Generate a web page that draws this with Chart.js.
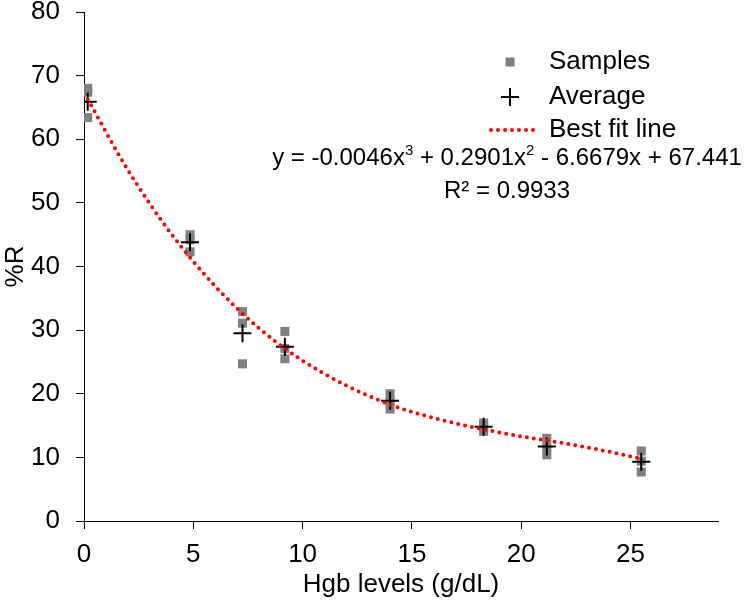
<!DOCTYPE html>
<html lang="en">
<head>
<meta charset="UTF-8">
<title>%R vs Hgb levels</title>
<script src="https://cdn.jsdelivr.net/npm/chart.js"></script>
<style>
  html, body { margin: 0; padding: 0; background: #fff; }
  #wrap { width: 750px; height: 604px; position: relative; }
</style>
</head>
<body>
<div id="wrap"><canvas id="chart"></canvas></div>
<script>
// Data
const hgbLevels = [0.17, 4.85, 7.25, 9.19, 14.0, 18.28, 21.17, 25.49];
const sampleA = [68.0, 45.0, 32.9, 29.8, 20.0, 15.4, 13.0, 11.0];
const sampleB = [67.4, 44.2, 31.1, 27.1, 18.8, 14.9, 11.6, 9.4];
const sampleC = [63.4, 42.3, 24.7, 25.5, 17.6, 14.1, 10.4, 7.7];
const averages = [65.9, 43.8, 29.5, 27.4, 18.9, 14.8, 11.7, 9.3];
const fitX = [0.17, 2, 4, 6, 8, 10, 12, 14, 16, 18, 20, 22, 24, 25.49];
const fitY = [66.3, 55.2, 45.1, 36.9, 30.3, 25.2, 21.3, 18.3, 16.2, 14.6, 13.3, 12.2, 10.9, 9.8];
const xTicks = [0, 5, 10, 15, 20, 25];
const yTicks = [0, 10, 20, 30, 40, 50, 60, 70, 80];
const seriesNames = ['Samples', 'Average', 'Best fit line'];
const equationParts = [['y = -0.0046x', false], ['3', true], [' + 0.2901x', false], ['2', true], [' - 6.6679x + 67.441', false]];
const r2Text = 'R\u00B2 = 0.9933';

const FONT = "'Liberation Sans', Arial, sans-serif";

const samplePoints = [];
hgbLevels.forEach((x, i) => {
  samplePoints.push({ x: x, y: sampleA[i] });
  samplePoints.push({ x: x, y: sampleB[i] });
  samplePoints.push({ x: x, y: sampleC[i] });
});
const avgPoints = hgbLevels.map((x, i) => ({ x: x, y: averages[i] }));
const fitPoints = fitX.map((x, i) => ({ x: x, y: fitY[i] }));

// legend + trendline equation drawn inside the plot, Excel style
const annotations = {
  id: 'annotations',
  afterDraw(chart) {
    const ctx = chart.ctx;
    const ds = chart.data.datasets;
    ctx.save();
    ctx.textBaseline = 'middle';
    const rows = [62, 97, 130];
    const mx = 510, tx = 549;
    // samples marker
    ctx.fillStyle = ds[0].backgroundColor;
    ctx.fillRect(mx - 4.5, rows[0] - 4.5, 9, 9);
    // average marker
    ctx.strokeStyle = ds[1].borderColor;
    ctx.lineWidth = 2;
    ctx.beginPath();
    ctx.moveTo(mx - 9, rows[1]); ctx.lineTo(mx + 9, rows[1]);
    ctx.moveTo(mx, rows[1] - 9); ctx.lineTo(mx, rows[1] + 9);
    ctx.stroke();
    // fit line marker
    ctx.strokeStyle = ds[2].borderColor;
    ctx.lineWidth = ds[2].borderWidth;
    ctx.lineCap = 'round';
    ctx.setLineDash(ds[2].borderDash);
    ctx.beginPath();
    ctx.moveTo(491, rows[2]); ctx.lineTo(539, rows[2]);
    ctx.stroke();
    ctx.setLineDash([]);
    ctx.fillStyle = '#000';
    ctx.textAlign = 'left';
    ctx.font = '26px ' + FONT;
    rows.forEach((y, i) => ctx.fillText(ds[i].label, tx, y));

    // equation
    const big = '24px ' + FONT, small = '15px ' + FONT;
    let total = 0;
    equationParts.forEach(p => { ctx.font = p[1] ? small : big; total += ctx.measureText(p[0]).width; });
    let x = 507 - total / 2;
    const ey = 158;
    equationParts.forEach(p => {
      ctx.font = p[1] ? small : big;
      ctx.fillText(p[0], x, p[1] ? ey - 7 : ey);
      x += ctx.measureText(p[0]).width;
    });
    ctx.font = big;
    ctx.textAlign = 'center';
    ctx.fillText(r2Text, 507, 191);
    ctx.restore();
  }
};

new Chart(document.getElementById('chart'), {
  type: 'scatter',
  data: {
    datasets: [
      {
        label: seriesNames[0],
        data: samplePoints,
        pointStyle: 'rect',
        pointRadius: 6.4,
        backgroundColor: 'rgb(128,128,128)',
        borderColor: 'rgb(128,128,128)',
        borderWidth: 0,
        order: 3
      },
      {
        label: seriesNames[1],
        data: avgPoints,
        pointStyle: 'cross',
        pointRadius: 9,
        borderColor: '#000',
        backgroundColor: '#000',
        borderWidth: 2,
        order: 2
      },
      {
        label: seriesNames[2],
        type: 'line',
        data: fitPoints,
        showLine: true,
        pointRadius: 0,
        borderColor: '#ff0000',
        borderWidth: 4,
        borderDash: [0, 7],
        borderCapStyle: 'round',
        cubicInterpolationMode: 'monotone',
        fill: false,
        order: 1
      }
    ]
  },
  options: {
    responsive: true,
    maintainAspectRatio: false,
    animation: false,
    layout: { padding: { top: 0, right: 32, left: 0, bottom: 0 } },
    plugins: { legend: { display: false }, tooltip: { enabled: false } },
    scales: {
      x: {
        type: 'linear',
        min: 0,
        max: 29,
        afterBuildTicks: s => { s.ticks = xTicks.map(v => ({ value: v })); },
        afterFit: s => { s.height = 83; },
        ticks: { color: '#000', font: { family: FONT, size: 26 }, padding: 10 },
        grid: { display: true, drawOnChartArea: false, drawTicks: true, tickLength: 8, tickColor: '#000' },
        border: { color: '#000', width: 1 },
        title: { display: true, text: 'Hgb levels (g/dL)', color: '#000', font: { family: FONT, size: 26 }, padding: { top: 0, bottom: 4 } }
      },
      y: {
        min: 0,
        max: 80,
        afterBuildTicks: s => { s.ticks = yTicks.map(v => ({ value: v })); },
        afterFit: s => { s.width = 84; s.paddingTop = 12; s.paddingBottom = 0; },
        ticks: { color: '#000', font: { family: FONT, size: 26 }, padding: 16 },
        grid: { display: true, drawOnChartArea: false, drawTicks: true, tickLength: 8, tickColor: '#000' },
        border: { color: '#000', width: 1 },
        title: { display: true, text: '%R', color: '#000', font: { family: FONT, size: 26 }, padding: { top: 0, bottom: 0 } }
      }
    }
  },
  plugins: [annotations]
});
</script>
</body>
</html>
